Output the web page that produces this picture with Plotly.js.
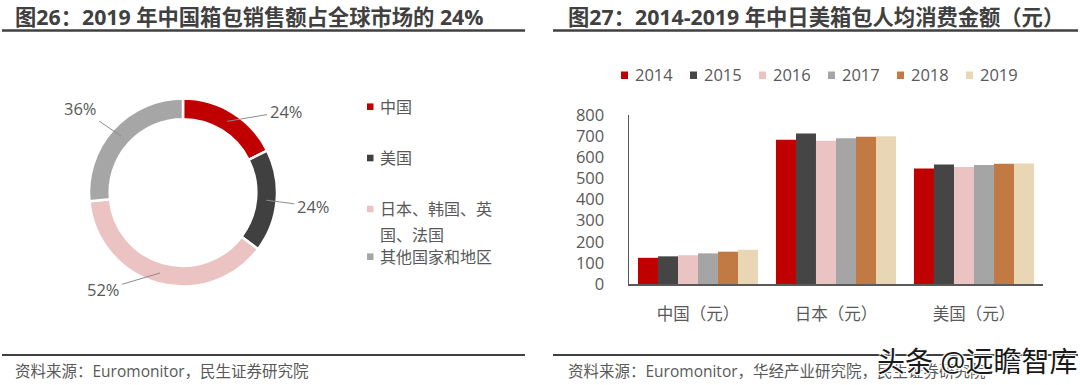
<!DOCTYPE html>
<html>
<head>
<meta charset="utf-8">
<script src="https://cdn.plot.ly/plotly-3.0.1.min.js"></script>
<style>
html,body{margin:0;padding:0;background:#fff;}
#chart{width:1080px;height:385px;}
</style>
</head>
<body>
<div id="chart"></div>
<script>
// ---- data ----
const pieLabels = ['中国', '美国', '日本、韩国、英国、法国', '其他国家和地区'];
const pieValues = [24, 24, 52, 36];
const pieText = ['24%', '24%', '52%', '36%'];

const barCategories = ['中国（元）', '日本（元）', '美国（元）'];
const years = ['2014', '2015', '2016', '2017', '2018', '2019'];
const v2014 = [124, 683, 547];
const v2015 = [131, 713, 566];
const v2016 = [136, 678, 554];
const v2017 = [145, 690, 563];
const v2018 = [153, 697, 569];
const v2019 = [162, 700, 571];
const barSeries = [v2014, v2015, v2016, v2017, v2018, v2019];
const yTicks = [0, 100, 200, 300, 400, 500, 600, 700, 800];

const title1 = '图26：2019 年中国箱包销售额占全球市场的 24%';
const title2 = '图27：2014-2019 年中日美箱包人均消费金额（元）';
const source1 = '资料来源：Euromonitor，民生证券研究院';
const source2 = '资料来源：Euromonitor，华经产业研究院，民生证券研究院';
const watermark = '头条 @远瞻智库';

// ---- styles ----
const W = 1080, H = 385;
const FONT = '"Open Sans", "Noto Sans CJK SC", sans-serif';
const pieColors = ['#C00000', '#404040', '#EBC3C3', '#A6A6A6'];
const barColors = ['#C00000', '#454545', '#EBC3C3', '#A5A5A5', '#C27A44', '#E8D6B5'];
const textGray = '#595959';
const px = x => x / W;
const py = y => 1 - y / H;

// donut geometry (pixels)
const cx = 183, cy = 192.5, R = 94, hole = 0.78;
const labelOffsets = [[59, -10], [47, 6], [-57, 17], [-41, -28]];

const traces = [];
traces.push({
  type: 'pie',
  values: pieValues,
  labels: pieLabels,
  text: pieText,
  textinfo: 'none',
  hoverinfo: 'label+text',
  sort: false,
  direction: 'clockwise',
  rotation: 0,
  hole: hole,
  marker: {colors: pieColors, line: {color: '#ffffff', width: 2.5}},
  domain: {x: [px(cx - R), px(cx + R)], y: [py(cy + R), py(cy - R)]},
  showlegend: false
});

years.forEach((yr, i) => {
  traces.push({
    type: 'bar',
    name: yr,
    x: barCategories,
    y: barSeries[i],
    marker: {color: barColors[i]},
    xaxis: 'x', yaxis: 'y',
    showlegend: false
  });
});

const annotations = [];
const shapes = [];

// titles
annotations.push({text: '<b>' + title1 + '</b>', xref: 'paper', yref: 'paper', x: px(13), y: py(16.5),
  xanchor: 'left', yanchor: 'middle', showarrow: false, font: {family: FONT, size: 21.3, color: '#404040'}});
annotations.push({text: '<b>' + title2 + '</b>', xref: 'paper', yref: 'paper', x: px(566), y: py(16.5),
  xanchor: 'left', yanchor: 'middle', showarrow: false, font: {family: FONT, size: 21.3, color: '#404040'}});
shapes.push({type: 'line', xref: 'paper', yref: 'paper', x0: px(2), x1: px(525), y0: py(30.5), y1: py(30.5),
  line: {color: '#404040', width: 2.5}});
shapes.push({type: 'line', xref: 'paper', yref: 'paper', x0: px(553), x1: px(1078), y0: py(30.5), y1: py(30.5),
  line: {color: '#404040', width: 2.5}});

// footers
shapes.push({type: 'line', xref: 'paper', yref: 'paper', x0: px(2), x1: px(525), y0: py(355), y1: py(355),
  line: {color: '#404040', width: 2}});
shapes.push({type: 'line', xref: 'paper', yref: 'paper', x0: px(553), x1: px(1078), y0: py(355), y1: py(355),
  line: {color: '#404040', width: 2}});
annotations.push({text: source1, xref: 'paper', yref: 'paper', x: px(13), y: py(371),
  xanchor: 'left', yanchor: 'middle', showarrow: false, font: {family: FONT, size: 15.5, color: textGray}});
annotations.push({text: source2, xref: 'paper', yref: 'paper', x: px(566), y: py(371),
  xanchor: 'left', yanchor: 'middle', showarrow: false, font: {family: FONT, size: 15.5, color: textGray}});
annotations.push({text: watermark, xref: 'paper', yref: 'paper', x: px(977), y: py(361),
  xanchor: 'center', yanchor: 'middle', showarrow: false,
  font: {family: FONT, size: 28, color: '#1a1a1a', shadow: '1px 1px 1px #fff, -1px -1px 1px #fff, 1px -1px 1px #fff, -1px 1px 1px #fff'}});

// donut labels with leader lines
const total = pieValues.reduce((a, b) => a + b, 0);
let cum = 0;
const rMid = R * (1 + hole) / 2;
pieValues.forEach((v, i) => {
  const mid = (cum + v / 2) / total * 2 * Math.PI;
  cum += v;
  const tx = cx + rMid * Math.sin(mid);
  const ty = cy - rMid * Math.cos(mid);
  annotations.push({
    text: pieText[i], xref: 'paper', yref: 'paper', x: px(tx), y: py(ty),
    ax: labelOffsets[i][0], ay: labelOffsets[i][1],
    showarrow: true, arrowhead: 0, arrowwidth: 1, arrowcolor: '#8c8c8c', standoff: 0, startstandoff: 1,
    font: {family: FONT, size: 16.5, color: textGray}
  });
});

// donut legend
const legY = [106.7, 158, 209, 256.7];
pieLabels.forEach((lab, i) => {
  const lines = lab.length > 7 ? [lab.slice(0, 7), lab.slice(7)] : [lab];
  shapes.push({type: 'rect', xref: 'paper', yref: 'paper', x0: px(367), x1: px(373.5),
    y0: py(legY[i] + 3.3), y1: py(legY[i] - 3.3), fillcolor: pieColors[i], line: {width: 0}});
  lines.forEach((ln, j) => {
    annotations.push({text: ln, xref: 'paper', yref: 'paper', x: px(378), y: py(legY[i] + j * 26),
      xanchor: 'left', yanchor: 'middle', showarrow: false, font: {family: FONT, size: 16, color: textGray}});
  });
});

// bar legend
years.forEach((yr, i) => {
  const x0 = 621 + i * 69;
  shapes.push({type: 'rect', xref: 'paper', yref: 'paper', x0: px(x0), x1: px(x0 + 7),
    y0: py(79), y1: py(71.5), fillcolor: barColors[i], line: {width: 0}});
  annotations.push({text: yr, xref: 'paper', yref: 'paper', x: px(x0 + 12), y: py(75),
    xanchor: 'left', yanchor: 'middle', showarrow: false, font: {family: FONT, size: 16.5, color: textGray}});
});

const layout = {
  width: W, height: H,
  margin: {l: 0, r: 0, t: 0, b: 0},
  paper_bgcolor: '#ffffff', plot_bgcolor: '#ffffff',
  font: {family: FONT, color: textGray},
  barmode: 'group', bargap: 0.13, bargroupgap: 0,
  showlegend: false,
  xaxis: {
    domain: [px(629), px(1043)], anchor: 'y',
    type: 'category', range: [-0.5, 2.5],
    showline: true, linecolor: '#595959', linewidth: 1.5,
    ticks: '', showgrid: false, zeroline: false,
    tickfont: {family: FONT, size: 16.5, color: textGray},
    ticklabelstandoff: 15, fixedrange: true
  },
  yaxis: {
    domain: [py(284), py(115)], anchor: 'x',
    range: [0, 800], tickvals: yTicks, ticktext: yTicks.map(String),
    showline: true, linecolor: '#595959', linewidth: 1.5,
    ticks: '', showgrid: false, zeroline: false,
    tickfont: {family: FONT, size: 16.5, color: textGray},
    ticklabelstandoff: 20, fixedrange: true
  },
  annotations: annotations,
  shapes: shapes
};

Plotly.newPlot('chart', traces, layout, {displayModeBar: false, staticPlot: true});
</script>
</body>
</html>
